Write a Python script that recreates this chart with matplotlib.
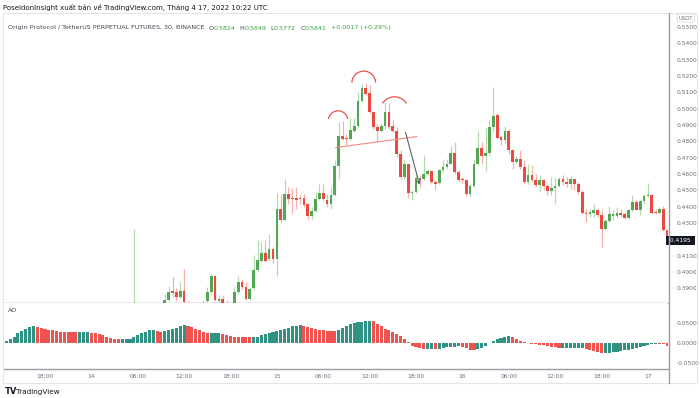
import numpy as np
import matplotlib
matplotlib.use("Agg")
import matplotlib.pyplot as plt
from matplotlib.patches import Rectangle

# ---- data (30 min bars, index 0 = 13th 12:00) ----
time_ticks = [12, 24, 36, 48, 60, 72, 84, 96, 108, 120, 132, 144, 156, 168]
time_labels = ["18:00", "14", "06:00", "12:00", "18:00", "15", "06:00", "12:00",
               "18:00", "16", "06:00", "12:00", "18:00", "17"]

price_ticks = [0.39, 0.40, 0.41, 0.43, 0.44, 0.45, 0.46, 0.47, 0.48, 0.49,
               0.50, 0.51, 0.52, 0.53, 0.54, 0.55]

candle_start = 35
opens = [.3765, .3780, .3770, .3785, .3775, .3790, .3780, .3795, .3805, .3829,
         .3886, .3876, .3845, .3886, .3812, .3800, .3795, .3788, .3798, .3821,
         .3876, .3977, .3825, .3835, .3805, .3810, .3808, .3876, .3937, .3907,
         .3835, .3901, .4009, .4070, .4115, .4077, .4142, .4081, .4383, .4320,
         .4480, .4455, .4455, .4455, .4455, .4414, .4340, .4373, .4449, .4483,
         .4443, .4414, .4469, .4647, .4831, .4821, .4817, .4865, .4893, .5048,
         .5124, .5093, .4980, .4888, .4864, .4893, .4980, .4893, .4864, .4721,
         .4582, .4660, .4483, .4490, .4578, .4572, .4598, .4617, .4551, .4545,
         .4623, .4643, .4664, .4729, .4612, .4566, .4561, .4475, .4525, .4660,
         .4760, .4709, .4729, .4888, .4960, .4827, .4807, .4864, .4750, .4674,
         .4690, .4643, .4551, .4596, .4566, .4531, .4566, .4527, .4494, .4514,
         .4529, .4572, .4551, .4541, .4567, .4541, .4490, .4361, .4357, .4361,
         .4381, .4351, .4265, .4314, .4345, .4340, .4361, .4357, .4330, .4377,
         .4428, .4381, .4434, .4465, .4469, .4367, .4361, .4388, .4255]
highs = [.4265, .3795, .3790, .3800, .3795, .3805, .3800, .3810, .3868, .3917,
         .3968, .3903, .3937, .4020, .3825, .3805, .3815, .3805, .3831, .3907,
         .3989, .3983, .3856, .3856, .3831, .3815, .3907, .3978, .3958, .3937,
         .3907, .4101, .4198, .4183, .4198, .4234, .4152, .4486, .4480, .4572,
         .4520, .4512, .4520, .4480, .4480, .4420, .4397, .4490, .4541, .4541,
         .4480, .4520, .4684, .4919, .4923, .4848, .4946, .4940, .5103, .5150,
         .5158, .5144, .4986, .4909, .4913, .5042, .5036, .4929, .4888, .4746,
         .4684, .4664, .4500, .4592, .4592, .4715, .4633, .4627, .4561, .4633,
         .4684, .4694, .4770, .4796, .4623, .4582, .4572, .4537, .4688, .4864,
         .4796, .4880, .4929, .5130, .4971, .4837, .4893, .4878, .4756, .4709,
         .4746, .4684, .4664, .4653, .4602, .4592, .4572, .4541, .4582, .4582,
         .4582, .4592, .4582, .4592, .4572, .4551, .4500, .4388, .4388, .4418,
         .4391, .4381, .4326, .4402, .4377, .4397, .4388, .4367, .4388, .4469,
         .4439, .4449, .4480, .4545, .4480, .4388, .4397, .4402, .4260]
lows = [.3750, .3755, .3750, .3770, .3760, .3775, .3765, .3785, .3780, .3825,
        .3845, .3825, .3842, .3800, .3790, .3770, .3780, .3780, .3790, .3815,
        .3866, .3825, .3815, .3805, .3795, .3790, .3800, .3866, .3897, .3829,
        .3829, .3891, .3999, .4060, .4060, .4070, .4054, .3974, .4305, .4316,
        .4418, .4361, .4388, .4418, .4397, .4320, .4326, .4367, .4443, .4439,
        .4397, .4388, .4463, .4572, .4807, .4776, .4807, .4858, .4888, .5042,
        .5083, .4974, .4878, .4796, .4858, .4878, .4878, .4858, .4704, .4572,
        .4572, .4455, .4443, .4483, .4520, .4561, .4592, .4541, .4504, .4541,
        .4612, .4633, .4660, .4602, .4551, .4545, .4463, .4459, .4520, .4653,
        .4660, .4620, .4715, .4858, .4817, .4776, .4790, .4725, .4633, .4666,
        .4633, .4541, .4541, .4551, .4520, .4490, .4500, .4469, .4469, .4418,
        .4520, .4531, .4520, .4510, .4500, .4480, .4357, .4305, .4336, .4336,
        .4336, .4152, .4255, .4305, .4316, .4333, .4336, .4326, .4326, .4367,
        .4377, .4347, .4418, .4457, .4357, .4357, .4357, .4250, .4181]
closes = [.3780, .3770, .3785, .3775, .3790, .3780, .3795, .3805, .3831, .3880,
          .3874, .3845, .3882, .3815, .3800, .3790, .3788, .3798, .3812, .3876,
          .3977, .3829, .3835, .3808, .3813, .3800, .3876, .3937, .3907, .3835,
          .3897, .4013, .4075, .4115, .4070, .4142, .4081, .4383, .4316, .4480,
          .4449, .4449, .4443, .4449, .4408, .4340, .4373, .4449, .4483, .4449,
          .4414, .4469, .4647, .4831, .4817, .4815, .4868, .4893, .5048, .5124,
          .5089, .4980, .4888, .4864, .4893, .4980, .4888, .4864, .4721, .4582,
          .4660, .4483, .4490, .4578, .4561, .4602, .4617, .4551, .4541, .4623,
          .4643, .4664, .4729, .4612, .4561, .4561, .4475, .4525, .4660, .4762,
          .4709, .4729, .4888, .4954, .4823, .4807, .4864, .4750, .4674, .4694,
          .4643, .4551, .4596, .4561, .4531, .4566, .4525, .4494, .4514, .4529,
          .4572, .4551, .4541, .4567, .4541, .4490, .4361, .4357, .4365, .4381,
          .4351, .4265, .4314, .4353, .4357, .4361, .4349, .4330, .4377, .4428,
          .4381, .4434, .4465, .4469, .4361, .4361, .4388, .4255, .4195]

ao_start = 1
ao = [0.0020, 0.0050, 0.0110, 0.0160, 0.0240, 0.0300, 0.0350, 0.0390, 0.0416, 0.0400,
      0.0376, 0.0360, 0.0336, 0.0320, 0.0296, 0.0282, 0.0276, 0.0274, 0.0272, 0.0270,
      0.0271, 0.0272, 0.0273, 0.0262, 0.0245, 0.0225, 0.0195, 0.0160, 0.0130, 0.0112,
      0.0104, 0.0106, 0.0108, 0.0112, 0.0160, 0.0210, 0.0250, 0.0285, 0.0315, 0.0336,
      0.0290, 0.0280, 0.0296, 0.0320, 0.0352, 0.0384, 0.0416, 0.0440, 0.0432, 0.0400,
      0.0360, 0.0320, 0.0280, 0.0240, 0.0242, 0.0244, 0.0246, 0.0224, 0.0205, 0.0176,
      0.0160, 0.0152, 0.0144, 0.0142, 0.0140, 0.0142, 0.0160, 0.0190, 0.0216, 0.0240,
      0.0264, 0.0288, 0.0320, 0.0352, 0.0384, 0.0416, 0.0432, 0.0440, 0.0432, 0.0408,
      0.0384, 0.0360, 0.0336, 0.0320, 0.0312, 0.0304, 0.0296, 0.0336, 0.0376, 0.0424,
      0.0472, 0.0496, 0.0512, 0.0528, 0.0544, 0.0560, 0.0536, 0.0480, 0.0416, 0.0360,
      0.0320, 0.0280, 0.0235, 0.0185, 0.0110, 0.0020, -0.0066, -0.0099, -0.0123, -0.0140,
      -0.0138, -0.0136, -0.0140, -0.0137, -0.0120, -0.0100, -0.0090, -0.0085, -0.0080, -0.0100,
      -0.0125, -0.0160, -0.0180, -0.0150, -0.0115, -0.0060, 0.0010, 0.0060, 0.0090, 0.0120,
      0.0150, 0.0178, 0.0150, 0.0110, 0.0060, 0.0030, 0.0012, -0.0010, -0.0025, -0.0040,
      -0.0055, -0.0070, -0.0085, -0.0100, -0.0125, -0.0123, -0.0121, -0.0119, -0.0117, -0.0115,
      -0.0113, -0.0140, -0.0170, -0.0200, -0.0230, -0.0250, -0.0248, -0.0240, -0.0230, -0.0215,
      -0.0200, -0.0180, -0.0160, -0.0140, -0.0120, -0.0095, -0.0070, -0.0045, -0.0030, -0.0020,
      -0.0025, -0.0030, -0.0066]

last_price = 0.4195

# ---- styles ----
UP, DOWN = "#53a653", "#ec4a41"
UP_WICK, DOWN_WICK = "#b4dab0", "#f5b1ad"
AO_UP, AO_DOWN = "#2f9282", "#ef5350"
GRID_TXT = "#6b6e78"
LINE = "#9a9da6"
TICK_FS = 4.3

W, H = 700, 398
fig = plt.figure(figsize=(W / 100, H / 100), dpi=100)


def fx(px):
    return px / W


def fy(py):
    return 1 - py / H


left, right = 4, 668
ax = fig.add_axes([fx(left), fy(302.5), fx(right - left), fy(13) - fy(302.5)])
ax2 = fig.add_axes([fx(left), fy(369), fx(right - left), fy(303) - fy(369)], sharex=ax)

# ---- candles ----
o = np.array(opens)
c = np.array(closes)
hi = np.array(highs)
lo = np.array(lows)
idx = np.arange(candle_start, candle_start + len(o))
up = c >= o
ax.vlines(idx, lo, hi, colors=np.where(up, UP_WICK, DOWN_WICK), lw=0.9, zorder=2)
body_h = np.maximum(np.abs(c - o), 0.0006)
ax.bar(idx, body_h, bottom=np.minimum(o, c), width=0.7,
       color=np.where(up, UP, DOWN), zorder=3, linewidth=0)

ax.set_xlim(1.4, 173.2)
ax.set_ylim(0.3813, 0.5586)
ax.yaxis.tick_right()
ax.set_yticks(price_ticks)
ax.set_yticklabels([f"{v:.4f}" for v in price_ticks])
ax.tick_params(axis="y", length=0, labelsize=TICK_FS, labelcolor=GRID_TXT, pad=6)
ax.tick_params(axis="x", length=0, labelbottom=False)
for s in ax.spines.values():
    s.set_visible(False)
ax.spines["bottom"].set_visible(True)
ax.spines["bottom"].set_color(LINE)
ax.spines["bottom"].set_linewidth(1.0)

# ---- drawings: head & shoulders ----
kpx, ppx = 3.87, 1630.0
for ck, cp, r, t0 in [(87.84, 0.4927, 9.75, 13), (94.48, 0.5157, 11.9, 5), (102.44, 0.4985, 14.3, 35)]:
    t = np.radians(np.linspace(t0, 180 - t0, 40))
    ax.plot(ck + r / kpx * np.cos(t), cp + r / ppx * np.sin(t), color="#e5534b", lw=0.9, zorder=4)
ax.plot([87.2, 108.2], [0.4762, 0.4829], color="#f28b82", lw=0.8, zorder=4)
ax.annotate("", xy=(109.1, 0.4518), xytext=(105.1, 0.4872),
            arrowprops=dict(arrowstyle="->", color="#5d606b", lw=0.8, mutation_scale=5), zorder=5)

# last price label
ax.text(1.0, last_price, f" {last_price:.4f} ", transform=ax.get_yaxis_transform(),
        ha="left", va="center", fontsize=TICK_FS, color="white",
        bbox=dict(boxstyle="square,pad=0.35", fc="#131722", ec="none"), zorder=6)

# ---- AO ----
ao_arr = np.array(ao)
ao_idx = np.arange(ao_start, ao_start + len(ao_arr))
rising = np.concatenate([[True], ao_arr[1:] >= ao_arr[:-1]])
ax2.bar(ao_idx, ao_arr, width=0.8, color=np.where(rising, AO_UP, AO_DOWN), linewidth=0)
ax2.set_ylim(-0.064, 0.0993)
ax2.yaxis.tick_right()
ax2.set_yticks([0.05, 0.0, -0.05])
ax2.set_yticklabels(["0.0500", "0.0000", "-0.0500"])
ax2.tick_params(axis="y", length=0, labelsize=TICK_FS, labelcolor=GRID_TXT, pad=6)
ax2.set_xticks(time_ticks)
ax2.set_xticklabels(time_labels)
ax2.tick_params(axis="x", length=0, labelsize=TICK_FS, labelcolor=GRID_TXT, pad=3.5)
for s in ax2.spines.values():
    s.set_visible(False)
ax2.spines["bottom"].set_visible(True)
ax2.spines["bottom"].set_color(LINE)
ax2.spines["bottom"].set_linewidth(1.0)

# vertical price-scale separator and outer frame
fig.add_artist(plt.Line2D([fx(668.5), fx(668.5)], [fy(13), fy(383)], color=LINE, lw=1.0))
fig.add_artist(Rectangle((fx(3), fy(383)), fx(694), fy(13) - fy(383), fill=False,
                         ec="#e3e5ea", lw=0.8))

# USDT unit box
fig.text(fx(686), fy(18), "USDT", fontsize=3.8, color=GRID_TXT, ha="center", va="center",
         bbox=dict(boxstyle="round,pad=0.3", fc="white", ec="#d1d4dc", lw=0.5))

# ---- header texts ----
fig.text(fx(3), fy(7.5), "PoseidonInsight xuất bản về TradingView.com, Tháng 4 17, 2022 10:22 UTC",
         fontsize=5.0, color="#131722", va="center")


def chain(x, y, pieces, size):
    t = fig.text(x, y, pieces[0][0], fontsize=size, color=pieces[0][1], va="center")
    for s, col, gap in pieces[1:]:
        t = ax.annotate(s, xy=(1, 0.5), xycoords=t, xytext=(gap, 0), textcoords="offset points",
                        fontsize=size, color=col, va="center", annotation_clip=False)


GREEN_TXT = "#3e9f47"
chain(fx(8), fy(28), [("Origin Protocol / TetherUS PERPETUAL FUTURES, 30, BINANCE", "#434651"),
                      ("O", "#434651", 3), ("0.5824", GREEN_TXT, 0),
                      ("H", "#434651", 3), ("0.5849", GREEN_TXT, 0),
                      ("L", "#434651", 3), ("0.5772", GREEN_TXT, 0),
                      ("C", "#434651", 3), ("0.5841", GREEN_TXT, 0),
                      ("+0.0017 (+0.29%)", GREEN_TXT, 3)], 4.6)
chain(fx(8), fy(310), [("AO", "#434651"), ("0.0343", AO_UP, 3)], 4.6)

# footer logo
fig.text(fx(5), fy(392), "TV", fontsize=6, fontweight="bold", color="#131722", va="center")
fig.text(fx(16), fy(392), "TradingView", fontsize=5.2, color="#131722", va="center")

fig.savefig("out.png", dpi=100, facecolor="white")
